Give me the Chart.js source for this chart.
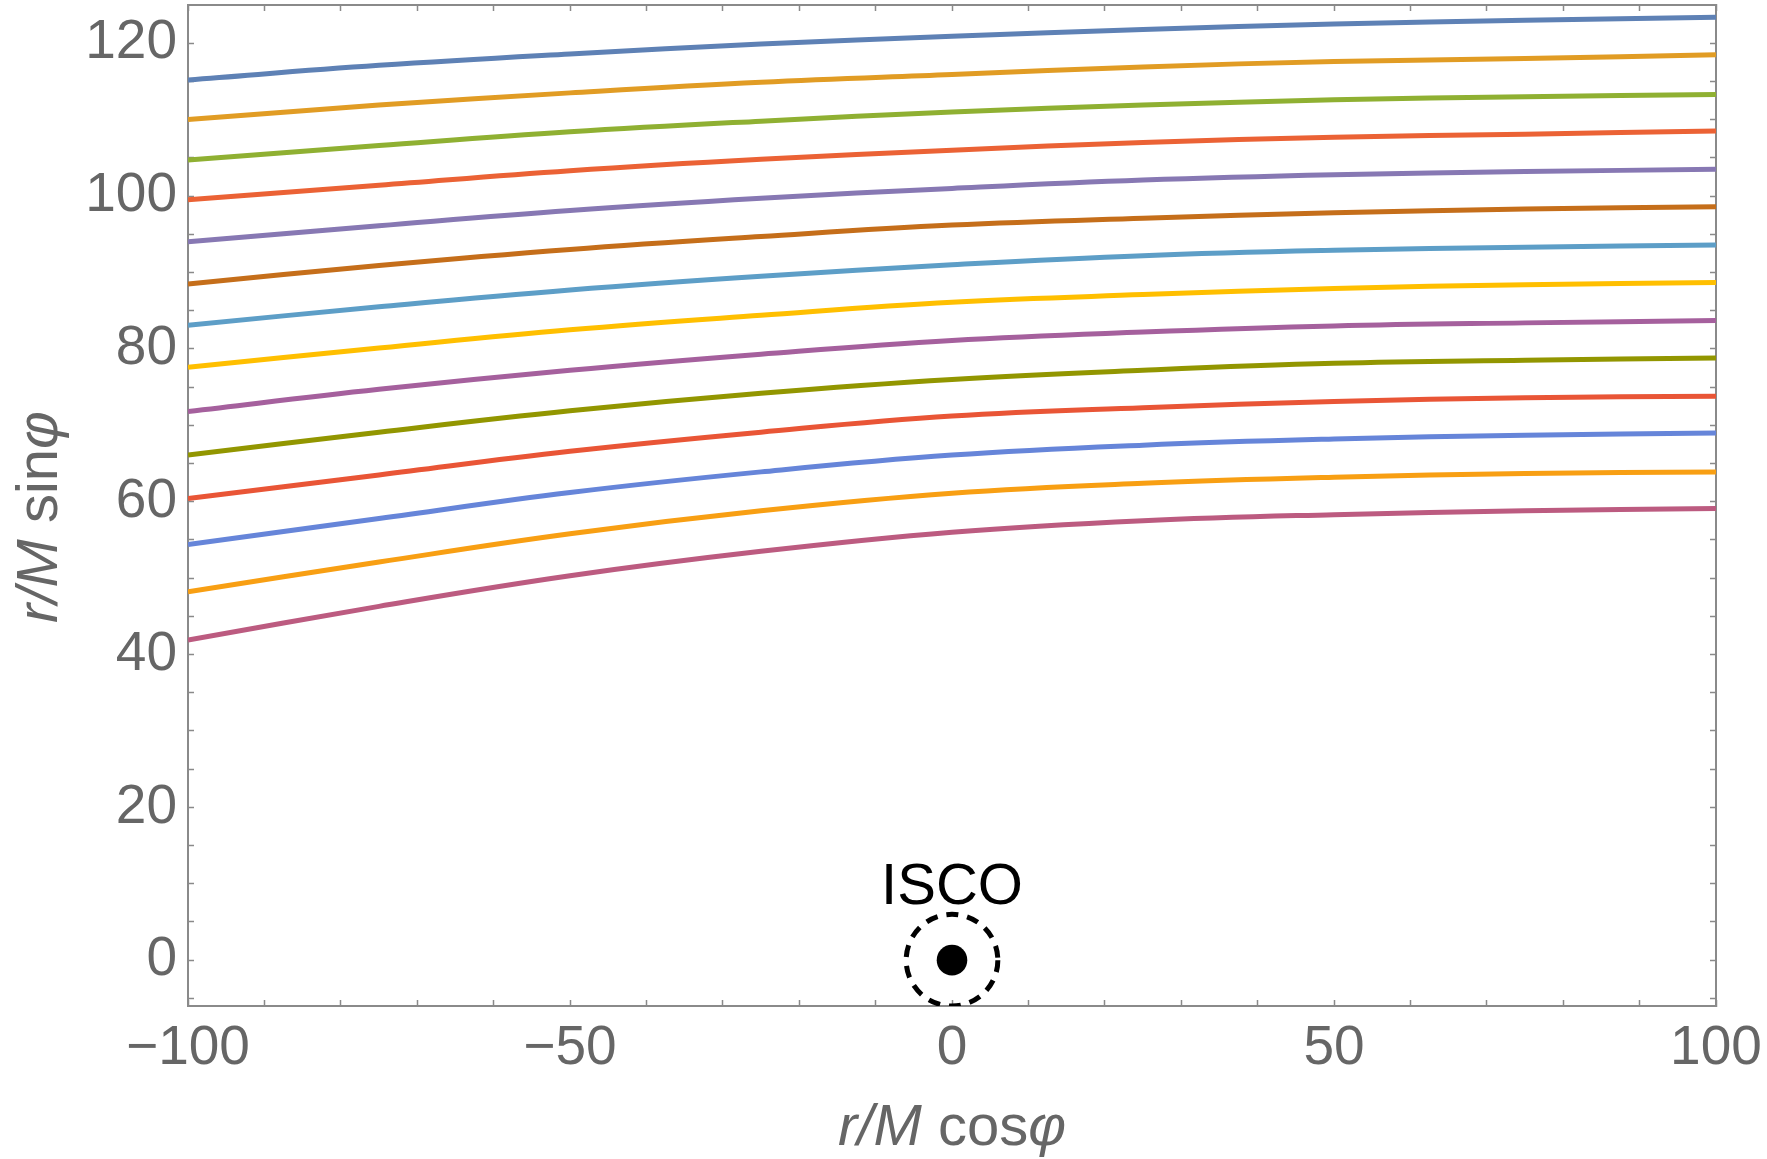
<!DOCTYPE html>
<html>
<head>
<meta charset="utf-8">
<style>
  html, body { margin: 0; padding: 0; background: #ffffff; }
  #wrap { width: 1767px; height: 1159px; position: relative; }
</style>
<script src="https://cdn.jsdelivr.net/npm/chart.js@4/dist/chart.umd.min.js"></script>
</head>
<body>
<div id="wrap"><canvas id="c" width="1767" height="1159"></canvas></div>
<script>
// ---------------- data ----------------
const xValues = [-100, -75, -50, -25, 0, 25, 50, 75, 100];

const curve1  = [115.2, 117.1, 118.6, 119.9, 120.9, 121.8, 122.5, 123.0, 123.4];
const curve2  = [110.0, 111.9, 113.5, 114.9, 115.9, 116.9, 117.6, 118.0, 118.5];
const curve3  = [104.7, 106.6, 108.4, 109.8, 111.0, 111.9, 112.6, 113.0, 113.3];
const curve4  = [ 99.5, 101.4, 103.3, 104.8, 106.0, 107.0, 107.7, 108.1, 108.5];
const curve5  = [ 94.0,  96.1,  98.1,  99.7, 101.0, 102.1, 102.8, 103.2, 103.5];
const curve6  = [ 88.5,  90.9,  93.0,  94.7,  96.2,  97.1,  97.8,  98.3,  98.6];
const curve7  = [ 83.1,  85.5,  87.7,  89.5,  91.0,  92.2,  92.9,  93.3,  93.6];
const curve8  = [ 77.6,  80.1,  82.5,  84.4,  86.1,  87.1,  87.9,  88.4,  88.7];
const curve9  = [ 71.8,  74.7,  77.2,  79.3,  81.1,  82.2,  83.0,  83.4,  83.7];
const curve10 = [ 66.1,  69.1,  71.9,  74.2,  76.0,  77.2,  78.1,  78.5,  78.8];
const curve11 = [ 60.4,  63.5,  66.6,  69.1,  71.2,  72.3,  73.1,  73.6,  73.8];
const curve12 = [ 54.4,  57.8,  61.2,  63.9,  66.1,  67.4,  68.2,  68.7,  69.0];
const curve13 = [ 48.2,  52.1,  55.8,  58.8,  61.1,  62.4,  63.2,  63.7,  63.9];
const curve14 = [ 41.9,  46.3,  50.3,  53.5,  56.0,  57.5,  58.3,  58.8,  59.1];

const curves = [curve1, curve2, curve3, curve4, curve5, curve6, curve7,
                curve8, curve9, curve10, curve11, curve12, curve13, curve14];

const seriesColors = ['#5E81B5', '#E19C24', '#8FB032', '#EB6235', '#8778B3', '#C56E1A', '#5D9EC7',
                      '#FFBF00', '#A5609D', '#929600', '#E95536', '#6685D9', '#F89F13', '#BC5B80'];

const xMajorTicks = [-100, -50, 0, 50, 100];
const xTickLabels = ['\u2212100', '\u221250', '0', '50', '100'];
const xMinorTicks = [-90, -80, -70, -60, -40, -30, -20, -10, 10, 20, 30, 40, 60, 70, 80, 90];
const yMajorTicks = [0, 20, 40, 60, 80, 100, 120];
const yTickLabels = ['0', '20', '40', '60', '80', '100', '120'];
const yMinorTicks = [-5, 5, 10, 15, 25, 30, 35, 45, 50, 55, 65, 70, 75, 85, 90, 95, 105, 110, 115];

const xRange = [-100, 100];
const yRange = [-6, 125];

const iscoRadius = 6;      // dashed circle
const horizonRadius = 2;   // filled dot
const iscoLabel = 'ISCO';
const iscoLabelBaselineY = 7.3;

const xTitleParts = [['r/M', 'italic'], [' cos', 'normal'], ['\u03C6', 'italic']];
const yTitleParts = [['r/M', 'italic'], [' sin', 'normal'], ['\u03C6', 'italic']];

// ---------------- styling ----------------
const FONT = '"Liberation Sans", Arial, Helvetica, sans-serif';
const FRAME = '#8a8a8a';
const LABEL = '#666666';

function tickBuilder(major, minor) {
  return function (scale) {
    scale.ticks = major.concat(minor).sort((a, b) => a - b).map(v => ({ value: v }));
  };
}
function labelFor(major, labels) {
  return function (value) {
    const i = major.indexOf(value);
    return i >= 0 ? labels[i] : '';
  };
}
function fixSize(prop, val) {
  return function (s) {
    s[prop] = val;
    s.paddingTop = 0; s.paddingBottom = 0; s.paddingLeft = 0; s.paddingRight = 0;
  };
}

const datasets = curves.map((ys, i) => ({
  label: 'curve ' + (i + 1),
  data: xValues.map((x, j) => ({ x: x, y: ys[j] })),
  borderColor: seriesColors[i],
  backgroundColor: seriesColors[i],
  borderWidth: 5,
  pointRadius: 0,
  showLine: true,
  fill: false,
  tension: 0.4
}));

function drawParts(ctx, parts, size) {
  let total = 0;
  parts.forEach(p => {
    ctx.font = (p[1] === 'italic' ? 'italic ' : '') + size + 'px ' + FONT;
    total += ctx.measureText(p[0]).width;
  });
  let x = -total / 2;
  parts.forEach(p => {
    ctx.font = (p[1] === 'italic' ? 'italic ' : '') + size + 'px ' + FONT;
    ctx.fillText(p[0], x, 0);
    x += ctx.measureText(p[0]).width;
  });
}

const annotationPlugin = {
  id: 'iscoAndTitles',
  afterDatasetsDraw(chart) {
    const ctx = chart.ctx;
    const xs = chart.scales.x, ys = chart.scales.y;
    const area = chart.chartArea;
    const cx = xs.getPixelForValue(0), cy = ys.getPixelForValue(0);
    const rI = Math.abs(xs.getPixelForValue(iscoRadius) - cx);
    const rH = Math.abs(xs.getPixelForValue(horizonRadius) - cx);
    ctx.save();
    ctx.beginPath();
    ctx.rect(area.left, area.top, area.right - area.left, area.bottom - area.top);
    ctx.clip();
    ctx.beginPath();
    ctx.setLineDash([12, 9]);
    ctx.lineWidth = 5;
    ctx.strokeStyle = '#000';
    ctx.arc(cx, cy, rI, 0, Math.PI * 2);
    ctx.stroke();
    ctx.setLineDash([]);
    ctx.beginPath();
    ctx.fillStyle = '#000';
    ctx.arc(cx, cy, rH, 0, Math.PI * 2);
    ctx.fill();
    ctx.font = '58px ' + FONT;
    ctx.textAlign = 'left';
    ctx.textBaseline = 'alphabetic';
    const w = ctx.measureText(iscoLabel).width;
    ctx.fillText(iscoLabel, cx - w / 2, ys.getPixelForValue(iscoLabelBaselineY));
    ctx.restore();
  },
  afterDraw(chart) {
    const ctx = chart.ctx;
    const area = chart.chartArea;
    ctx.save();
    ctx.fillStyle = LABEL;
    ctx.textAlign = 'left';
    ctx.textBaseline = 'alphabetic';
    ctx.save();
    ctx.translate((area.left + area.right) / 2, area.bottom + 139);
    drawParts(ctx, xTitleParts, 58);
    ctx.restore();
    ctx.save();
    ctx.translate(area.left - 131, 517);
    ctx.rotate(-Math.PI / 2);
    drawParts(ctx, yTitleParts, 58);
    ctx.restore();
    ctx.restore();
  }
};

const tickFont = { family: FONT, size: 55 };
const tickGrid = { drawOnChartArea: false, drawTicks: true, tickLength: -6, tickColor: FRAME, tickWidth: 1.5 };
const frameBorder = { display: true, color: FRAME, width: 2 };

new Chart(document.getElementById('c'), {
  type: 'scatter',
  data: { datasets: datasets },
  plugins: [annotationPlugin],
  options: {
    responsive: false,
    animation: false,
    devicePixelRatio: 1,
    layout: { padding: { top: 5, right: 51, left: 0, bottom: 0 } },
    plugins: { legend: { display: false }, tooltip: { enabled: false } },
    scales: {
      x: {
        type: 'linear', position: 'bottom',
        min: xRange[0], max: xRange[1],
        afterBuildTicks: tickBuilder(xMajorTicks, xMinorTicks),
        afterFit: fixSize('height', 153),
        ticks: { callback: labelFor(xMajorTicks, xTickLabels), font: tickFont, color: LABEL,
                 padding: 16, maxRotation: 0, minRotation: 0, autoSkip: false },
        grid: tickGrid,
        border: frameBorder
      },
      x2: {
        type: 'linear', position: 'top',
        min: xRange[0], max: xRange[1],
        afterBuildTicks: tickBuilder(xMajorTicks, xMinorTicks),
        afterFit: fixSize('height', 0),
        ticks: { display: false },
        grid: tickGrid,
        border: frameBorder
      },
      y: {
        type: 'linear', position: 'left',
        min: yRange[0], max: yRange[1],
        afterBuildTicks: tickBuilder(yMajorTicks, yMinorTicks),
        afterFit: fixSize('width', 188),
        ticks: { callback: labelFor(yMajorTicks, yTickLabels), font: tickFont, color: LABEL,
                 padding: 17, autoSkip: false },
        grid: tickGrid,
        border: frameBorder
      },
      y2: {
        type: 'linear', position: 'right',
        min: yRange[0], max: yRange[1],
        afterBuildTicks: tickBuilder(yMajorTicks, yMinorTicks),
        afterFit: fixSize('width', 0),
        ticks: { display: false },
        grid: tickGrid,
        border: frameBorder
      }
    }
  }
});
</script>
</body>
</html>
